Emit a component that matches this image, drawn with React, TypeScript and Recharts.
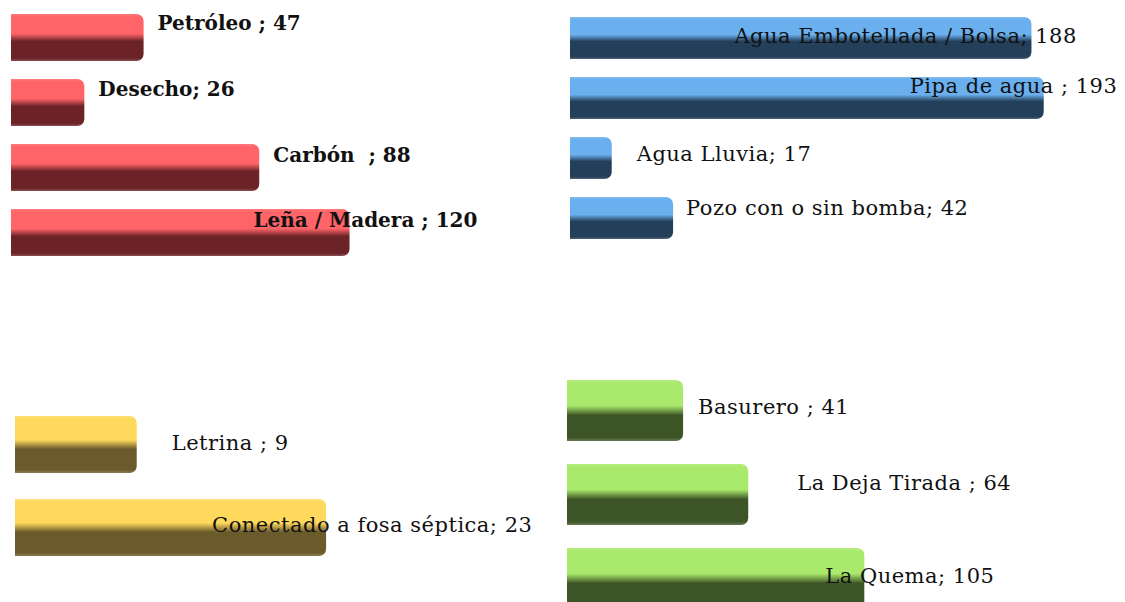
import { Bar, BarChart, LabelList, XAxis, YAxis } from "recharts";

// Cocina: combustible
const FUEL_CATEGORIES = ["Petróleo ", "Desecho", "Carbón  ", "Leña / Madera "];
const FUEL_VALUES = [47, 26, 88, 120];

// Fuente de agua
const WATER_CATEGORIES = ["Agua Embotellada / Bolsa", "Pipa de agua ", "Agua Lluvia", "Pozo con o sin bomba"];
const WATER_VALUES = [188, 193, 17, 42];

// Servicio sanitario
const SANITATION_CATEGORIES = ["Letrina ", "Conectado a fosa séptica"];
const SANITATION_VALUES = [9, 23];

// Basura
const WASTE_CATEGORIES = ["Basurero ", "La Deja Tirada ", "La Quema"];
const WASTE_VALUES = [41, 64, 105];

// label placement, relative to the end / top of each bar
const FUEL_LABEL_DX = [14, 14, 14, -96];
const FUEL_LABEL_DY = [16, 17, 18, 18];
const WATER_LABEL_DX = [-297, -134, 25, 13];
const WATER_LABEL_DY = [26, 16, 24, 18];
const SANITATION_LABEL_DX = [35, -114];
const SANITATION_LABEL_DY = [34, 33];
const WASTE_LABEL_DX = [15, 49, -39];
const WASTE_LABEL_DY = [34, 26, 35];

type PanelProps = {
  id: string;
  categories: string[];
  values: number[];
  labelDx: number[];
  labelDy: number[];
  light: string;
  dark: string;
  left: number;
  top: number;
  width: number;
  height: number;
  margin: { top: number; right: number; bottom: number; left: number };
  max: number;
  gap: number;
  bold?: boolean;
};

function Panel(p: PanelProps) {
  const data = p.categories.map((name, i) => ({ name, value: p.values[i] }));

  const renderLabel = (props: any) => {
    const { x, y, width, index, value } = props;
    const end = Number(x) + Number(width);
    return (
      <text
        x={end + p.labelDx[index]}
        y={Number(y) + p.labelDy[index]}
        textAnchor="start"
        fontFamily="'DejaVu Serif', serif"
        fontSize={p.bold ? 20 : 21}
        fontWeight={p.bold ? 700 : 400}
        letterSpacing={p.bold ? 0 : 0.5}
        fill="#111"
        style={{ whiteSpace: "pre" }}
      >
        {`${p.categories[index]}; ${value}`}
      </text>
    );
  };

  return (
    <div style={{ position: "absolute", left: p.left, top: p.top }}>
      <BarChart
        width={p.width}
        height={p.height}
        data={data}
        layout="vertical"
        margin={p.margin}
        barCategoryGap={p.gap}
      >
        <defs>
          <linearGradient id={p.id} x1="0" y1="0" x2="0" y2="1">
            <stop offset="0%" stopColor={p.light} stopOpacity={0.85} />
            <stop offset="6%" stopColor={p.light} />
            <stop offset="42%" stopColor={p.light} />
            <stop offset="58%" stopColor={p.dark} />
            <stop offset="94%" stopColor={p.dark} />
            <stop offset="100%" stopColor={p.dark} stopOpacity={0.8} />
          </linearGradient>
        </defs>
        <XAxis type="number" domain={[0, p.max]} hide />
        <YAxis type="category" dataKey="name" hide />
        <Bar dataKey="value" fill={`url(#${p.id})`} radius={[0, 7, 7, 0]} isAnimationActive={false}>
          <LabelList dataKey="value" content={renderLabel} />
        </Bar>
      </BarChart>
    </div>
  );
}

export default function App() {
  return (
    <div
      style={{
        position: "fixed",
        left: 0,
        top: 0,
        width: 1125,
        height: 602,
        overflow: "hidden",
        background: "#fff",
      }}
    >
      <Panel
        id="fuel"
        categories={FUEL_CATEGORIES}
        values={FUEL_VALUES}
        labelDx={FUEL_LABEL_DX}
        labelDy={FUEL_LABEL_DY}
        light="#FF6468"
        dark="#6B2327"
        left={0}
        top={0}
        width={560}
        height={270}
        margin={{ top: 5, right: 13, bottom: 5, left: 11 }}
        max={190}
        gap={9}
        bold
      />
      <Panel
        id="water"
        categories={WATER_CATEGORIES}
        values={WATER_VALUES}
        labelDx={WATER_LABEL_DX}
        labelDy={WATER_LABEL_DY}
        light="#6BB0EE"
        dark="#243F5A"
        left={560}
        top={0}
        width={565}
        height={260}
        margin={{ top: 8, right: 15, bottom: 12, left: 10 }}
        max={220}
        gap={9}
      />
      <Panel
        id="sanitation"
        categories={SANITATION_CATEGORIES}
        values={SANITATION_VALUES}
        labelDx={SANITATION_LABEL_DX}
        labelDy={SANITATION_LABEL_DY}
        light="#FFD95C"
        dark="#6B5A2C"
        left={0}
        top={390}
        width={560}
        height={190}
        margin={{ top: 13, right: 4, bottom: 11, left: 15 }}
        max={40}
        gap={13}
      />
      <Panel
        id="waste"
        categories={WASTE_CATEGORIES}
        values={WASTE_VALUES}
        labelDx={WASTE_LABEL_DX}
        labelDy={WASTE_LABEL_DY}
        light="#A9E96B"
        dark="#3D5526"
        left={560}
        top={360}
        width={565}
        height={262}
        margin={{ top: 8.5, right: 20, bottom: 1.5, left: 7 }}
        max={190}
        gap={11.5}
      />
    </div>
  );
}
